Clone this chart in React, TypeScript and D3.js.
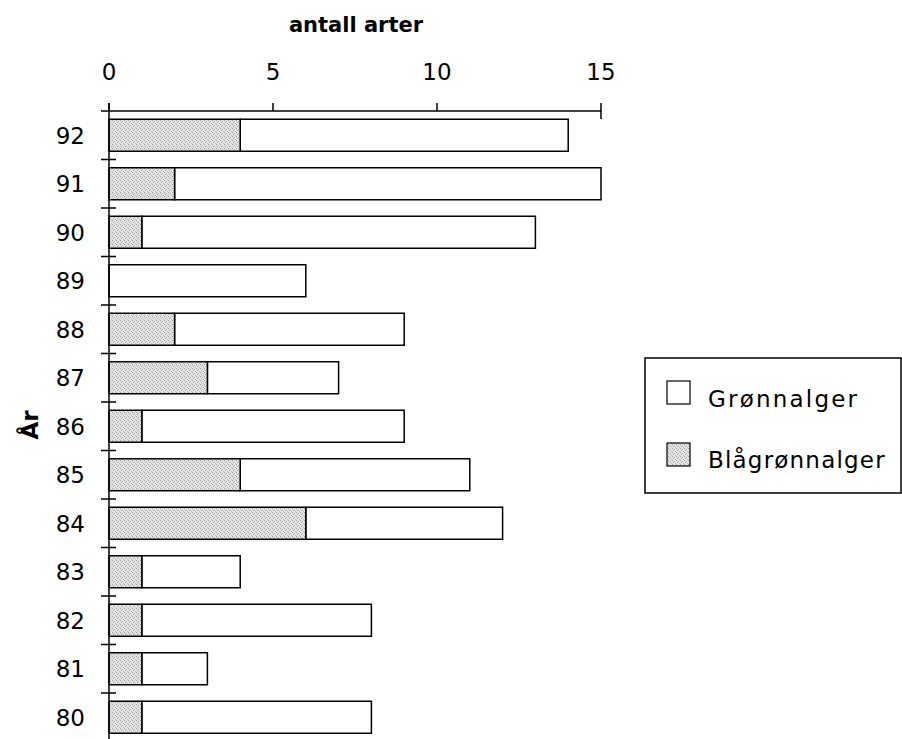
import React from "react";
import * as d3 from "d3";

const years = ["92", "91", "90", "89", "88", "87", "86", "85", "84", "83", "82", "81", "80"];
const blagronn = [4, 2, 1, 0, 2, 3, 1, 4, 6, 1, 1, 1, 1];
const gronn = [10, 13, 12, 6, 7, 4, 8, 7, 6, 3, 7, 2, 7];
const xTicks = [0, 5, 10, 15];
const seriesNames = ["Grønnalger", "Blågrønnalger"];

const W = 902;
const H = 739;
const FONT = "'DejaVu Sans', sans-serif";

export default function App() {
  const x = d3.scaleLinear().domain([0, 15]).range([109, 601]);
  const band = d3.scaleBand<string>().domain(years).range([111, 741.5]).padding(0);
  const bar = d3
    .scaleBand<string>()
    .domain(years)
    .range([111, 741.5])
    .paddingInner(0.34)
    .paddingOuter(0.17);

  const stacked = years.map((y, i) => ({
    year: y,
    b0: 0,
    b1: blagronn[i],
    g0: blagronn[i],
    g1: blagronn[i] + gronn[i],
  }));

  const boundaries = years.map((y) => band(y) as number);

  return (
    <svg
      width={W}
      height={H}
      style={{ position: "absolute", left: 0, top: 0, background: "#fff" }}
      fontFamily={FONT}
    >
      <defs>
        <pattern id="stip" width="4" height="4" patternUnits="userSpaceOnUse">
          <rect width="4" height="4" fill="#e4e4e4" />
          <rect x="0" y="0" width="1" height="1" fill="#9a9a9a" />
          <rect x="2" y="1" width="1" height="1" fill="#b4b4b4" />
          <rect x="1" y="2" width="1" height="1" fill="#a4a4a4" />
          <rect x="3" y="3" width="1" height="1" fill="#bcbcbc" />
        </pattern>
      </defs>
      <rect width={W} height={H} fill="#fff" />

      {/* title */}
      <text x={356} y={32} textAnchor="middle" fontWeight="bold" fontSize={21} fill="#000">
        antall arter
      </text>

      {/* x tick labels */}
      {xTicks.map((t) => (
        <text key={t} x={x(t)} y={80} textAnchor="middle" fontSize={23} fill="#000">
          {t}
        </text>
      ))}

      {/* bars */}
      {stacked.map((d) => (
        <g key={d.year}>
          {d.g1 > d.g0 && (
            <rect
              x={x(d.g0)}
              y={bar(d.year)}
              width={x(d.g1) - x(d.g0)}
              height={bar.bandwidth()}
              fill="#fff"
              stroke="#000"
              strokeWidth={1.5}
            />
          )}
          {d.b1 > d.b0 && (
            <rect
              x={x(d.b0)}
              y={bar(d.year)}
              width={x(d.b1) - x(d.b0)}
              height={bar.bandwidth()}
              fill="url(#stip)"
              stroke="#000"
              strokeWidth={1.5}
            />
          )}
        </g>
      ))}

      {/* x axis */}
      <line x1={101} x2={x(15)} y1={111} y2={111} stroke="#000" strokeWidth={1.5} />
      {xTicks.map((t) => (
        <line
          key={t}
          x1={x(t)}
          x2={x(t)}
          y1={103}
          y2={t === 15 ? 119 : 111}
          stroke="#000"
          strokeWidth={1.5}
        />
      ))}

      {/* y axis */}
      <line x1={x(0)} x2={x(0)} y1={103} y2={H} stroke="#000" strokeWidth={1.5} />
      {boundaries.slice(1).map((b, i) => (
        <line key={i} x1={101} x2={116} y1={b} y2={b} stroke="#000" strokeWidth={1.5} />
      ))}

      {/* y labels */}
      {years.map((y) => (
        <text
          key={y}
          x={85}
          y={(bar(y) as number) + bar.bandwidth() / 2}
          dy="0.36em"
          textAnchor="end"
          fontSize={23}
          fill="#000"
        >
          {y}
        </text>
      ))}

      <text
        transform="translate(30,425) rotate(-90)"
        textAnchor="middle"
        dy="0.36em"
        fontWeight="bold"
        fontSize={23}
        fill="#000"
      >
        År
      </text>

      {/* legend */}
      <rect x={645} y={358} width={256} height={135} fill="#fff" stroke="#000" strokeWidth={1.5} />
      <rect x={667} y={381} width={23} height={23} fill="#fff" stroke="#000" strokeWidth={1.2} />
      <text x={708} y={407} fontSize={23} letterSpacing={2.2} fill="#000">
        {seriesNames[0]}
      </text>
      <rect x={667} y={443} width={23} height={23} fill="url(#stip)" stroke="#000" strokeWidth={1.2} />
      <text x={708} y={468} fontSize={23} letterSpacing={1.2} fill="#000">
        {seriesNames[1]}
      </text>
    </svg>
  );
}
